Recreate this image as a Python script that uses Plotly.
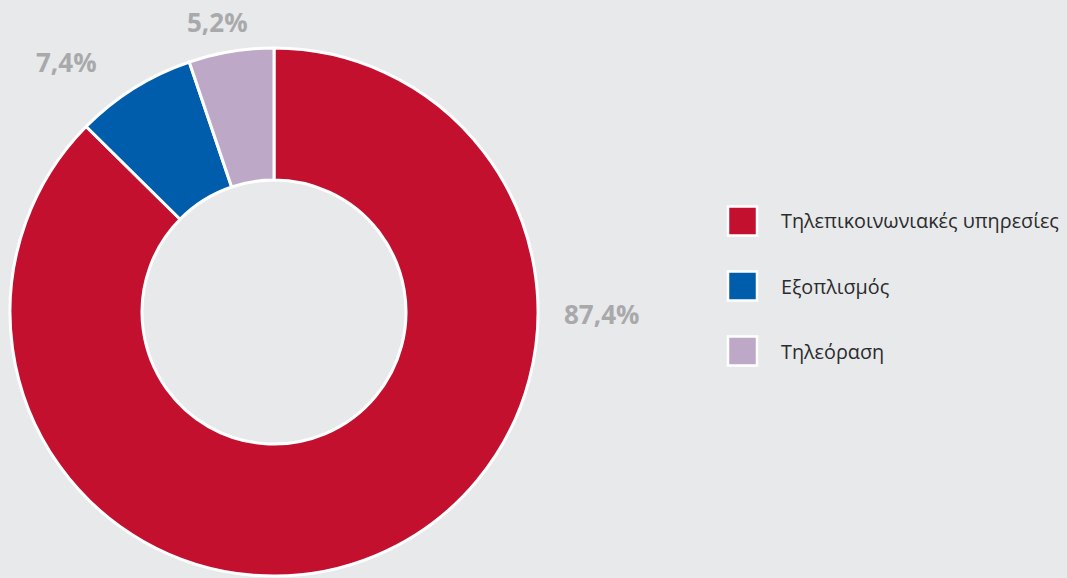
import plotly.graph_objects as go

# data
categories = ['Τηλεπικοινωνιακές υπηρεσίες', 'Εξοπλισμός', 'Τηλεόραση']
shares = [87.4, 7.4, 5.2]
colors = ['#c3102f', '#005dab', '#bea8c8']

# where the percentage labels sit (paper coords)
label_pos = [(601 / 1067, 1 - 314 / 578), (66 / 1067, 1 - 62 / 578), (217 / 1067, 1 - 22 / 578)]

W, H = 1067, 578
BG = '#e8e9eb'

fig = go.Figure()
fig.add_trace(go.Pie(labels=categories, values=shares,
                     marker=dict(colors=colors, line=dict(color='white', width=3)),
                     hole=0.5, sort=False, direction='clockwise', rotation=0,
                     textinfo='none', hoverinfo='label+percent',
                     showlegend=False,
                     domain=dict(x=[10 / W, 538 / W], y=[2 / H, 530 / H])))

# percentage labels
for v, (px_, py_) in zip(shares, label_pos):
    fig.add_annotation(x=px_, y=py_, xref='paper', yref='paper',
                       xanchor='center', yanchor='middle',
                       text=f'<b>{v:.1f}%</b>'.replace('.', ','),
                       showarrow=False,
                       font=dict(family='Open Sans', size=26, color='#a9a9ab'))

# legend drawn by hand so the spacing matches
for i, (name, c) in enumerate(zip(categories, colors)):
    yc = 221 + i * 65
    fig.add_shape(type='rect', xref='paper', yref='paper',
                  x0=728 / W, x1=757 / W,
                  y0=1 - (yc + 14.5) / H, y1=1 - (yc - 14.5) / H,
                  fillcolor=c, line=dict(color='white', width=2.5))
    fig.add_annotation(x=779 / W, y=1 - yc / H, xref='paper', yref='paper',
                       text=name, showarrow=False,
                       xanchor='left', yanchor='middle',
                       font=dict(family='Open Sans', size=19.8, color='#2b2b2b'))

fig.update_layout(width=W, height=H, paper_bgcolor=BG, plot_bgcolor=BG,
                  margin=dict(l=0, r=0, t=0, b=0), showlegend=False)

fig.write_html("out.html", config={'displayModeBar': False},
               post_script="document.body.style.margin='0';"
                           "document.body.style.background='#e8e9eb';")
